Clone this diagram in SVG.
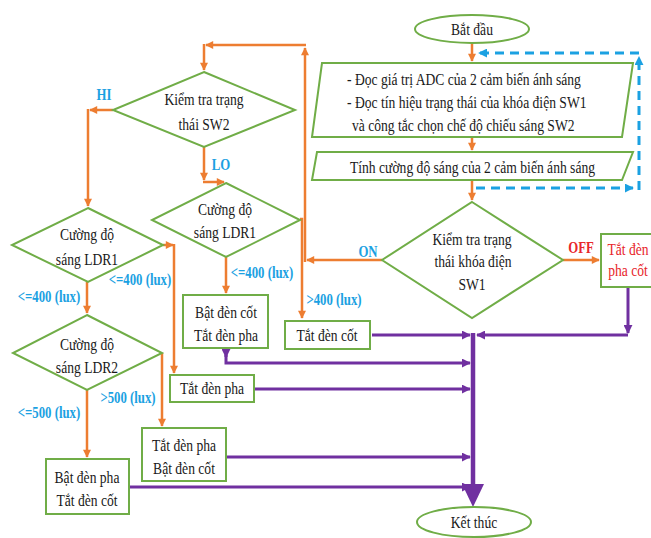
<svg xmlns="http://www.w3.org/2000/svg" width="651" height="538" viewBox="0 0 651 538">
<defs>
<style>
.n{fill:#fff;stroke:#70AD47;stroke-width:2}
.t{font-family:"Liberation Serif","Times New Roman",serif;font-size:17px;fill:#1a1a1a;text-anchor:middle}
.tl{font-family:"Liberation Serif","Times New Roman",serif;font-size:17px;fill:#1a1a1a;text-anchor:start}
.lb{font-family:"Liberation Serif","Times New Roman",serif;font-size:16px;font-weight:bold;fill:#1BA1E2;text-anchor:middle}
.red{fill:#E8262B}
.o{fill:none;stroke:#ED7D31;stroke-width:2.5}
.p{fill:none;stroke:#7030A0;stroke-width:3}
.b{fill:none;stroke:#1BA1E2;stroke-width:3;stroke-dasharray:9 6}
</style>
<marker id="ao" viewBox="0 0 10 10" refX="9" refY="5" markerWidth="3.6" markerHeight="3.2" orient="auto" markerUnits="strokeWidth"><path d="M0,0L10,5L0,10z" fill="#ED7D31"/></marker>
<marker id="ap" viewBox="0 0 10 10" refX="9" refY="5" markerWidth="3.2" markerHeight="3" orient="auto" markerUnits="strokeWidth"><path d="M0,0L10,5L0,10z" fill="#7030A0"/></marker>
<marker id="ab" viewBox="0 0 10 10" refX="9" refY="5" markerWidth="3" markerHeight="3" orient="auto" markerUnits="strokeWidth"><path d="M0,0L10,5L0,10z" fill="#1BA1E2"/></marker>
</defs>

<g id="connectors">
<!-- orange -->
<path class="o" d="M472,43V61" marker-end="url(#ao)"/>
<path class="o" d="M472,137V150" marker-end="url(#ao)"/>
<path class="o" d="M472,180V200" marker-end="url(#ao)"/>
<path class="o" d="M382,260H307" marker-end="url(#ao)"/>
<path class="o" d="M305,262V48" marker-end="url(#ao)"/>
<path class="o" d="M306,45H206" marker-end="url(#ao)"/>
<path class="o" d="M204,44V70" marker-end="url(#ao)"/>
<path class="o" d="M563,260H599" marker-end="url(#ao)"/>
<path class="o" d="M113,110H90" marker-end="url(#ao)"/>
<path class="o" d="M88,109V206" marker-end="url(#ao)"/>
<path class="o" d="M204,147V180" marker-end="url(#ao)"/>
<path class="o" d="M203,182H224" marker-end="url(#ao)"/>
<path class="o" d="M226,257V293" marker-end="url(#ao)"/>
<path class="o" d="M300,219H302V318" marker-end="url(#ao)"/>
<path class="o" d="M163,245H173" marker-end="url(#ao)"/>
<path class="o" d="M174,244V373" marker-end="url(#ao)"/>
<path class="o" d="M87,282V313" marker-end="url(#ao)"/>
<path class="o" d="M162,353V426" marker-end="url(#ao)"/>
<path class="o" d="M87,390V457" marker-end="url(#ao)"/>
<!-- blue dashed loop -->
<path class="b" d="M476,188H633" marker-end="url(#ab)"/>
<path class="b" d="M639,190V57" marker-end="url(#ab)"/>
<path class="b" d="M639,53H479" marker-end="url(#ab)"/>
<!-- purple -->
<path class="p" d="M473,333V486" style="stroke-width:4.5"/>
<polygon points="462,484 484,484 473,507" fill="#7030A0"/>
<path class="p" d="M628,287V333" marker-end="url(#ap)"/>
<path class="p" d="M628,335H477" marker-end="url(#ap)"/>
<path class="p" d="M372,335H470" marker-end="url(#ap)"/>
<path class="p" d="M226,348V357" marker-end="url(#ap)"/>
<path class="p" d="M226,355V363H470" marker-end="url(#ap)"/>
<path class="p" d="M254,389H470" marker-end="url(#ap)"/>
<path class="p" d="M226,457H470" marker-end="url(#ap)"/>
<path class="p" d="M129,487H470" marker-end="url(#ap)"/>
</g>

<g id="labels">
<text class="lb" transform="translate(104,100) scale(0.8,1)">HI</text>
<text class="lb" transform="translate(221,170) scale(0.8,1)">LO</text>
<text class="lb" transform="translate(368,257) scale(0.8,1)">ON</text>
<text class="lb red" transform="translate(581,253) scale(0.8,1)">OFF</text>
<text class="lb" transform="translate(262,278) scale(0.8,1)">&lt;=400 (lux)</text>
<text class="lb" transform="translate(334,305) scale(0.8,1)">&gt;400 (lux)</text>
<text class="lb" transform="translate(140,285) scale(0.8,1)">&lt;=400 (lux)</text>
<text class="lb" transform="translate(49,302) scale(0.8,1)">&lt;=400 (lux)</text>
<text class="lb" transform="translate(128,403) scale(0.8,1)">&gt;500 (lux)</text>
<text class="lb" transform="translate(49,418) scale(0.8,1)">&lt;=500 (lux)</text>
</g>

<g id="start">
<ellipse class="n" cx="472" cy="29" rx="57" ry="14"/>
<text class="t" transform="translate(472,35) scale(0.8,1)">Bắt đầu</text>
</g>

<g id="read-input">
<polygon class="n" points="322,63 633,63 622,137 312,137"/>
<text class="tl" transform="translate(347,85) scale(0.8,1)">- Đọc giá trị ADC của 2 cảm biến ánh sáng</text>
<text class="tl" transform="translate(347,108) scale(0.8,1)">- Đọc tín hiệu trạng thái của khóa điện SW1</text>
<text class="tl" transform="translate(352,131) scale(0.8,1)">và công tắc chọn chế độ chiếu sáng SW2</text>
</g>

<g id="compute">
<polygon class="n" points="317,152 633,152 622,180 312,180"/>
<text class="tl" transform="translate(350,173) scale(0.8,1)">Tính cường độ sáng của 2 cảm biến ánh sáng</text>
</g>

<g id="check-sw1">
<polygon class="n" points="472,202 563,260 472,318 382,260"/>
<text class="t" transform="translate(472,245) scale(0.8,1)">Kiểm tra trạng</text>
<text class="t" transform="translate(473,267) scale(0.8,1)">thái khóa điện</text>
<text class="t" transform="translate(472,290) scale(0.8,1)">SW1</text>
</g>

<g id="off-box">
<rect class="n" x="601" y="234" width="51" height="53"/>
<text class="t red" transform="translate(628,255) scale(0.8,1)">Tắt đèn</text>
<text class="t red" transform="translate(628,276) scale(0.8,1)">pha cốt</text>
</g>

<g id="check-sw2">
<polygon class="n" points="204,72 295,110 204,147 113,110"/>
<text class="t" transform="translate(204,105) scale(0.8,1)">Kiểm tra trạng</text>
<text class="t" transform="translate(204,130) scale(0.8,1)">thái SW2</text>
</g>

<g id="ldr1-lo">
<polygon class="n" points="226,183 300,220 226,257 152,220"/>
<text class="t" transform="translate(225,215) scale(0.8,1)">Cường độ</text>
<text class="t" transform="translate(225,238) scale(0.8,1)">sáng LDR1</text>
</g>

<g id="box-cot-on">
<rect class="n" x="183" y="295" width="85" height="53"/>
<text class="t" transform="translate(226,318) scale(0.8,1)">Bật đèn cốt</text>
<text class="t" transform="translate(226,341) scale(0.8,1)">Tắt đèn pha</text>
</g>

<g id="box-cot-off">
<rect class="n" x="285" y="321" width="85" height="28"/>
<text class="t" transform="translate(327,341) scale(0.8,1)">Tắt đèn cốt</text>
</g>

<g id="ldr1-hi">
<polygon class="n" points="88,208 163,245 88,282 12,245"/>
<text class="t" transform="translate(87,240) scale(0.8,1)">Cường độ</text>
<text class="t" transform="translate(87,265) scale(0.8,1)">sáng LDR1</text>
</g>

<g id="ldr2">
<polygon class="n" points="87,315 162,353 87,390 13,353"/>
<text class="t" transform="translate(87,350) scale(0.8,1)">Cường độ</text>
<text class="t" transform="translate(87,373) scale(0.8,1)">sáng LDR2</text>
</g>

<g id="box-pha-off">
<rect class="n" x="170" y="375" width="84" height="27"/>
<text class="t" transform="translate(212,394) scale(0.8,1)">Tắt đèn pha</text>
</g>

<g id="box-pha-off-cot-on">
<rect class="n" x="142" y="428" width="84" height="53"/>
<text class="t" transform="translate(184,451) scale(0.8,1)">Tắt đèn pha</text>
<text class="t" transform="translate(184,474) scale(0.8,1)">Bật đèn cốt</text>
</g>

<g id="box-pha-on">
<rect class="n" x="46" y="459" width="83" height="55"/>
<text class="t" transform="translate(87,483) scale(0.8,1)">Bật đèn pha</text>
<text class="t" transform="translate(87,506) scale(0.8,1)">Tắt đèn cốt</text>
</g>

<g id="end">
<ellipse class="n" cx="474" cy="522" rx="57" ry="15"/>
<text class="t" transform="translate(474,528) scale(0.8,1)">Kết thúc</text>
</g>
</svg>
